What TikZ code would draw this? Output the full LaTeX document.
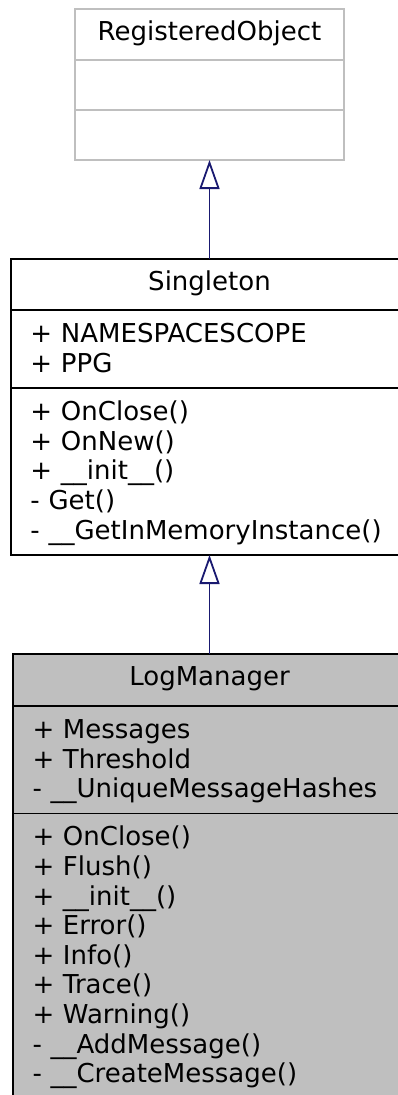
\documentclass[tikz,border=0pt]{standalone}
\usepackage{fontspec}
\setmainfont{DejaVu Sans}
\usetikzlibrary{arrows.meta}

\definecolor{edgeblue}{RGB}{25,25,112}
\definecolor{boxgray}{RGB}{191,191,191}

\begin{document}
\begin{tikzpicture}[x=1pt,y=-1pt,font=\fontsize{26}{29.6}\selectfont,
 box/.style={draw,rectangle,line width=1.9pt,inner sep=0pt,outer sep=0pt,anchor=north west},
 head/.style={box,align=center,execute at begin node=\strut,execute at end node=\strut},
 part/.style={box,inner xsep=19.5pt,align=left,
   execute at begin node={\rule[-6.5pt]{0pt}{29.6pt}},execute at end node={\rule[-6.5pt]{0pt}{29.6pt}}},
 inh/.style={-{Triangle[open,length=29pt,width=20pt]},edgeblue,line width=1.8pt}]
\useasboundingbox (0,0) rectangle (398,1095);
% base class
\node[head,draw=boxgray,minimum width=269pt,minimum height=51pt] (ro) at (75,9) {RegisteredObject};
\node[box,draw=boxgray,minimum width=269pt,minimum height=50pt] (roA) at (ro.south west) {};
\node[box,draw=boxgray,minimum width=269pt,minimum height=50pt] (roM) at (roA.south west) {};
% Singleton
\node[head,fill=white,minimum width=397pt,minimum height=51pt] (sg) at (11,259) {Singleton};
\node[part,fill=white,text width=358pt,minimum height=78pt] (sgA) at (sg.south west)
 {+ NAMESPACESCOPE\\+ PPG};
\node[part,fill=white,text width=358pt,minimum height=167pt] (sgM) at (sgA.south west)
 {+ OnClose()\\+ OnNew()\\+ \_\_init\_\_()\\- Get()\\- \_\_GetInMemoryInstance()};
% LogManager
\node[head,fill=boxgray,minimum width=393pt,minimum height=52pt] (lm) at (13,654) {LogManager};
\node[part,fill=boxgray,text width=354pt,minimum height=107.5pt] (lmA) at (lm.south west)
 {+ Messages\\+ Threshold\\- \_\_UniqueMessageHashes};
\node[part,fill=boxgray,text width=354pt,minimum height=285pt] (lmM) at (lmA.south west)
 {+ OnClose()\\+ Flush()\\+ \_\_init\_\_()\\+ Error()\\+ Info()\\+ Trace()\\+ Warning()\\- \_\_AddMessage()\\- \_\_CreateMessage()};
\draw[inh] (sg.north) -- (roM.south);
\draw[inh] (lm.north) -- (sgM.south);
\end{tikzpicture}
\end{document}
